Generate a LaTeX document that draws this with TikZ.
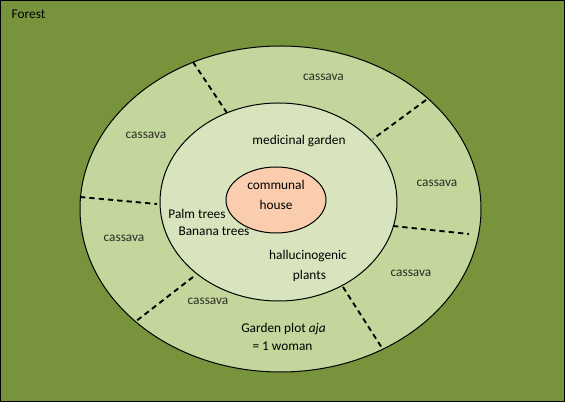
\documentclass[tikz,border=0pt]{standalone}
\usepackage{fontspec}
\setmainfont{Carlito}
\usepackage{xcolor}
\usetikzlibrary{positioning,shapes.geometric}

\definecolor{forestgreen}{HTML}{77933C}
\definecolor{plotgreen}{HTML}{C3D69B}
\definecolor{gardengreen}{HTML}{D7E4BD}
\definecolor{housepeach}{HTML}{F9CDAD}
\definecolor{cassavagrey}{HTML}{2C2C24}

\begin{document}
\begin{tikzpicture}[x=0.75pt,y=-0.75pt,
		font=\fontsize{10}{12}\selectfont,
		ring/.style={draw=black,line width=0.75pt},
		divider/.style={line width=1.4pt,dash pattern=on 4pt off 3pt},
		crop/.style={text=cassavagrey},
		label/.style={text=black}]
			\useasboundingbox (0,0) rectangle (565,402);
			\fill[forestgreen] (0,0) rectangle (565,402);
			\draw[line width=1.5pt] (0,0) rectangle (565,402);

			% rings
			\draw[ring,fill=plotgreen] (280.5,209) ellipse (200.5 and 163);
			\draw[ring,fill=gardengreen] (278.5,202) ellipse (118.5 and 99);

			% plot boundaries
			\draw[divider] (193,62) -- (227,113);
			\draw[divider] (426,100) -- (373,139);
			\draw[divider] (80,197) -- (157,204);
			\draw[divider] (393,226) -- (469,234);
			\draw[divider] (193,277) -- (135,322);
			\draw[divider] (343,287) -- (382,348);

			\node[ring,ellipse,fill=housepeach,minimum width=75pt,minimum height=49.5pt,inner sep=0pt] (house) at (276,200) {};
			\node[anchor=west] (forest) at (7,14) {Forest};

			\node[crop] (cassavaN)  at (323.5,77) {cassava};
			\node[crop] (cassavaNW) at (146,135) {cassava};
			\node[crop] (cassavaE)  at (437,183) {cassava};
			\node[crop] (cassavaW)  at (124,238) {cassava};
			\node[crop] (cassavaSE) at (411,273) {cassava};
			\node[crop] (cassavaS)  at (208,301) {cassava};

			\node[label] (medicinal) at (299,141) {medicinal garden};
			\node[label] (communal) at (276,185) {communal};
			\node[label] (housetext) at (276,204.5) {house};
			\node[label] (palm) at (197,214) {Palm trees};
			\node[label] (banana) at (214,231) {Banana trees};
			\node[label] (halluc) at (308,256) {hallucinogenic};
			\node[label] (plants) at (309.5,276) {plants};
			\node[label] (aja) at (283.5,329) {Garden plot \textit{aja}};
			\node[label] (woman) at (282.5,346) {= 1 woman};

		\end{tikzpicture}
\end{document}
